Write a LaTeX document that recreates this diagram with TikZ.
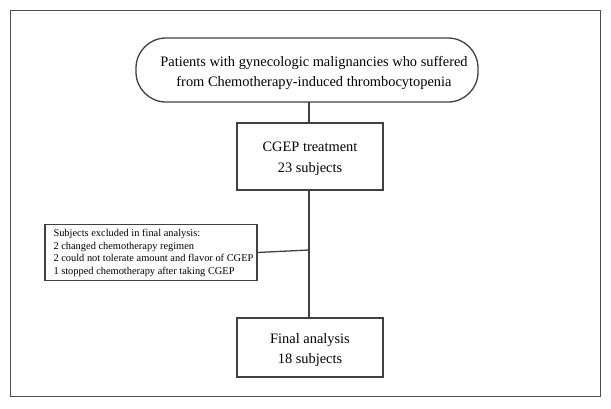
\documentclass[tikz,border=0pt]{standalone}
\usepackage{fontspec}
\setmainfont{Liberation Serif}
\begin{document}
\begin{tikzpicture}[x=1pt,y=-1pt,
  every node/.style={inner sep=0pt, outer sep=0pt},
  box/.style={draw=black!75, line width=1.3pt},
  txt/.style={align=center, font=\fontsize{14.4}{20.5}\selectfont},
  line/.style={draw=black!75, line width=1.3pt}]
\useasboundingbox (0,0) rectangle (611,408);
\draw[black!70, line width=1pt] (10.5,10.5) rectangle (600,396);
\node[box, rounded corners=30pt, minimum width=342pt, minimum height=64pt] (top) at (307,70) {};
\node[txt] (topt) at (314,73)
  {Patients with gynecologic malignancies who suffered\\from Chemotherapy-induced thrombocytopenia};
\node[box, minimum width=146pt, minimum height=67pt] (cgep) at (310,156.5) {};
\node[txt] (cgept) at (310,159) {CGEP treatment\\23 subjects};
\node[box, minimum width=146pt, minimum height=59pt] (final) at (310,347.5) {};
\node[txt] (finalt) at (310,350) {Final analysis\\18 subjects};
\node[box, minimum width=212pt, minimum height=56pt] (excl) at (151,252.5) {};
\node[align=left, font=\fontsize{10.4}{12.8}\selectfont, anchor=west] (exclt) at (53.5,253)
  {Subjects excluded in final analysis:\\2 changed chemotherapy regimen\\2 could not tolerate amount and flavor of CGEP\\1 stopped chemotherapy after taking CGEP};
\coordinate (j) at (309,250);
\draw[line] (top.south -| j) -- (cgep.north -| j);
\draw[line] (cgep.south -| j) -- (final.north -| j);
\draw[line] (excl.east) -- (j);
\end{tikzpicture}
\end{document}
